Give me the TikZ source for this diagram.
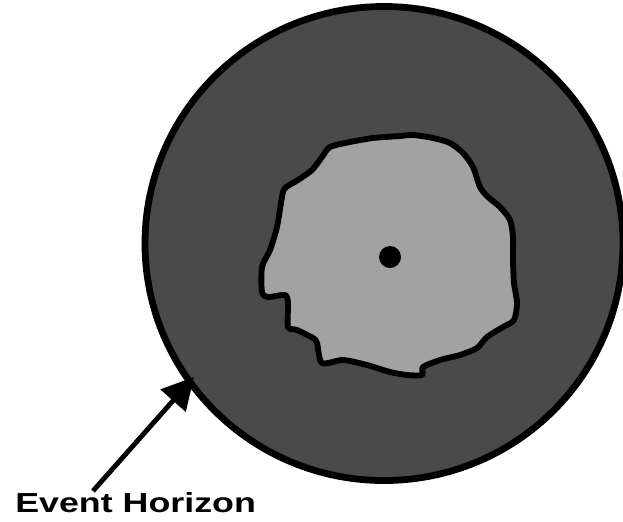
\documentclass[tikz,border=0pt]{standalone}
\usepackage{fontspec}
\setmainfont{Liberation Sans}
\usetikzlibrary{arrows.meta}
\definecolor{horizongray}{RGB}{74,74,74}
\definecolor{coregray}{RGB}{162,162,162}
\tikzset{
  horizon disk/.style={
    fill=horizongray,
    draw=black,
    line width=5.8pt
  },
  core blob/.style={
    fill=coregray,
    draw=black,
    line width=5pt,
    line join=round
  },
  pointer/.style={
    -{Triangle[length=27pt, width=28pt]},
    line width=4.2pt,
    color=black
  },
  label text/.style={
    font=\bfseries\fontsize{23.5}{26}\selectfont,
    inner sep=0pt,
    xscale=1.3
  }
}

\begin{document}
\begin{tikzpicture}[x=0.03cm, y=-0.03cm]
    % 1 unit = 1 pixel of the 623 x 521 picture
    \useasboundingbox (0,0) rectangle (623,521);

    % event horizon disk
    \draw[horizon disk] (384,243.5) ellipse [x radius=239, y radius=237];

    % inner irregular region
    \draw[core blob] plot[smooth cycle, tension=0.45] coordinates {
      (330,147) (350,142) (373,138) (400,136) (413,135) (433,138)
      (450,143) (463,153) (473,167) (480,187) (488,197) (500,207)
      (510,220) (513,237) (513,260) (514,283) (517,303) (514,320)
      (503,327) (487,337) (477,348) (460,355) (440,360) (423,367)
      (422,375) (407,375) (390,372) (367,365) (343,360) (322,363)
      (317,343) (313,338) (297,330) (288,327) (288,303) (285,295)
      (268,297) (262,292) (262,267) (270,250) (277,227) (282,197)
      (285,188) (298,180) (312,170) (322,157)
    };

    % singularity
    \fill[black] (390,257) circle [radius=11];

    % label and arrow
    \node[label text, anchor=base west] (horizonlabel) at (15,512) {Event Horizon};
    \coordinate (tail) at (93,491);
    \coordinate (tip) at (194,377);
    \draw[pointer] (tail) -- (tip);

\end{tikzpicture}
\end{document}
